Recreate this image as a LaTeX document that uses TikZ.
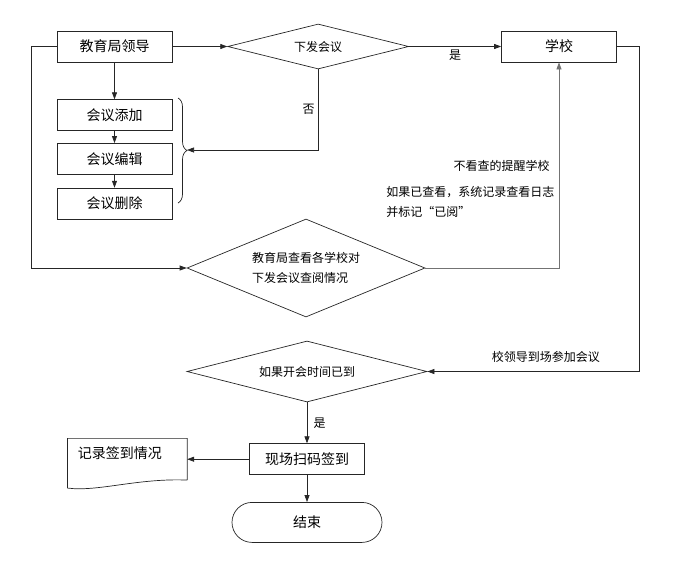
\documentclass[tikz,border=0pt]{standalone}
\usepackage{fontspec}
\setmainfont{Noto Sans CJK SC}
\usetikzlibrary{positioning,shapes.geometric,arrows.meta,decorations.pathreplacing}
\tikzset{box/.style={draw,rectangle,minimum width=115pt,minimum height=31pt,inner sep=0pt,font=\fontsize{14}{16}\selectfont},
cond/.style={draw,diamond,inner sep=0pt,font=\fontsize{12}{20}\selectfont},
note/.style={inner sep=0pt,font=\fontsize{12}{20}\selectfont},
>={Triangle[length=7pt,width=5pt]}}

\begin{document}
\begin{tikzpicture}[x=1pt,y=-1pt,line width=0.7pt,draw=black!85]
\useasboundingbox (0,0) rectangle (698,568);
\node[box] (lead) at (114.5,46.5) {教育局领导};
\node[box,below=37pt of lead] (add) {会议添加};
\node[box,below=12pt of add] (edit) {会议编辑};
\node[box,below=13pt of edit] (del) {会议删除};
\node[cond,shape aspect=4,minimum width=181pt,minimum height=45pt,right=55pt of lead] (dia1) {下发会议};
\node[box] (school) at (559,46.5) {学校};
\node[cond,shape aspect=2.4,minimum width=238pt,minimum height=98pt,align=left] (dia2) at (306,268) {教育局查看各学校对\\下发会议查阅情况};
\node[cond,shape aspect=4,minimum width=240pt,minimum height=61pt] (dia3) at (307,371.5) {如果开会时间已到};
\node[box,below=41pt of dia3] (sign) {现场扫码签到};
\node[inner xsep=10pt,inner ysep=0pt,text width=99pt,align=left,text height=19.5pt,text depth=21.5pt,font=\fontsize{14}{16}\selectfont,left=62pt of sign] (rec) {记录签到情况};
\node[box,rounded corners=20pt,minimum width=150pt,minimum height=40pt,below=27pt of sign] (fin) {结束};
\node[note,anchor=east] (remind) at (550,166) {不看查的提醒学校};
\node[note,anchor=north west,align=left] (logged) at (386,186) {如果已查看，系统记录查看日志\\并标记“已阅”};
\coordinate (bracetip) at (187,150);
\draw[decorate,decoration={brace,amplitude=9pt}] (178,98) -- (178,203);
\draw (rec.south east) -- (rec.north east) -- (rec.north west) -- ([yshift=-8pt]rec.south west) .. controls ([xshift=30pt,yshift=-12pt]rec.south west) and ([xshift=-50pt,yshift=2pt]rec.south east) .. (rec.south east);
\path[->] (lead) edge (add) (add) edge (edit) (edit) edge (del);
\path[->] (lead) edge (dia1);
\path[->] (dia1) edge node[below,font=\fontsize{12}{14}\selectfont] {是} (school);
\draw[->] (dia1.south) |- node[pos=0.25,left,font=\fontsize{12}{14}\selectfont] {否} (bracetip);
\draw[->] (lead.west) -- ++(-25,0) |- (dia2.west);
\draw[->,draw=black!55] (dia2.east) -| (school.south);
\draw[->] (school.east) -- ++(22,0) |- node[pos=0.72,above=5pt,font=\fontsize{12}{14}\selectfont] {校领导到场参加会议} (dia3.east);
\path[->] (dia3) edge node[right,xshift=3pt,font=\fontsize{12}{14}\selectfont] {是} (sign);
\path[->] (sign) edge (rec.east);
\path[->] (sign) edge (fin);
\end{tikzpicture}
\end{document}
